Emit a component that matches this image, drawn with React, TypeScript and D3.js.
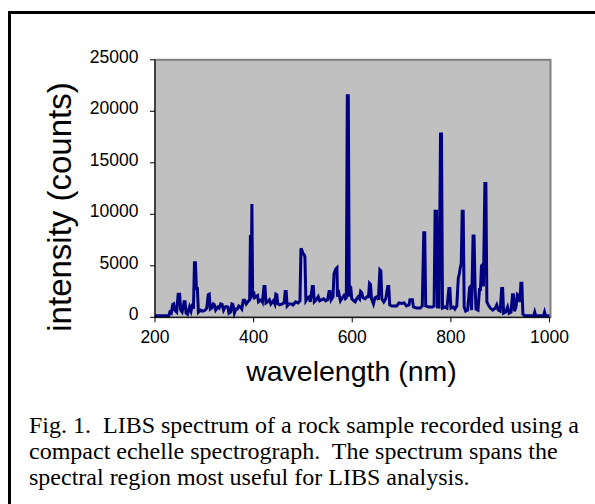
import React from 'react';
import * as d3 from 'd3';

// spectrum: [wavelength nm, counts]
const uvBand: [number, number][] = [
  [200, 150], [228, 150], [230, 500], [233, 400], [236, 1250], [238, 1300], [240, 700], [244, 500],
  [247, 2250], [250, 2250], [252, 700], [255, 500], [259, 1500], [261, 1500], [263, 400], [266, 300],
  [270, 1000], [273, 600], [276, 1300], [278, 800], [280, 5300], [282, 5300], [284, 2800], [286, 2800],
  [288, 500], [292, 700], [296, 600], [300, 650], [302, 700], [305, 900], [308, 2200], [310, 2250],
  [312, 800], [315, 900], [318, 1300], [320, 1250], [323, 700], [327, 1000], [330, 900], [333, 1300],
  [336, 1250], [339, 700], [342, 1000], [345, 1050], [348, 1000], [350, 400], [353, 500], [356, 1300],
  [358, 1250], [361, 400], [364, 800], [367, 800], [370, 1100], [373, 1000], [376, 800], [379, 1650],
  [382, 1650], [385, 1300], [388, 1500], [390, 1600], [392, 1700], [393.5, 8000], [395, 1800],
  [396.5, 11000], [398, 2000],
];

const visBand: [number, number][] = [
  [400, 2500], [402, 1900], [405, 2000], [408, 2100], [410, 1500], [413, 1600], [416, 1700], [418, 1500],
  [421, 3000], [423, 3000], [425, 1400], [428, 1500], [432, 1700], [435, 1300], [440, 1600], [443, 1300],
  [445, 2250], [447, 2200], [449, 1300], [453, 1200], [458, 1300], [462, 1400], [464, 2500], [466, 2500],
  [468, 1100], [472, 1300], [477, 1300], [480, 1200], [485, 1500], [490, 1400], [494, 1600], [496, 6700],
  [498, 6500], [500, 6200], [502, 6100], [504, 5900], [506, 1600], [510, 1900], [513, 2000], [515, 1500],
  [519, 3000], [521, 3000], [523, 1500], [527, 1700], [531, 2000], [534, 1600], [538, 1700], [542, 1800],
  [546, 1600], [550, 1700], [553, 2500], [555, 2500], [557, 1700], [561, 2000], [563, 4200], [565, 4500],
  [567, 4700], [569, 4800], [570, 2000], [573, 2300], [576, 1600], [580, 1900], [583, 2100], [586, 1800],
  [588, 1900], [590, 21500], [592, 21500], [594, 2000], [595.5, 3000], [597, 2900], [599, 1800],
  [603, 1600], [606, 1500], [609, 1800], [612, 2000], [615, 1800], [617, 2500], [619, 2400], [622, 1900],
  [626, 1800], [630, 2000], [633, 2000], [635, 3300], [637, 3200], [639, 1800], [643, 1300], [646, 1900],
  [650, 2000], [653, 1700], [656, 4600], [658, 4500], [660, 1800], [664, 1500], [668, 1800], [672, 3000],
  [674, 3000], [676, 1200],
];

const nirBand: [number, number][] = [
  [680, 1100], [690, 1100], [695, 1400], [700, 1350], [705, 1400], [710, 1100], [715, 1200], [717, 1700],
  [722, 1700], [724, 1000], [730, 900], [738, 900], [742, 1100], [745, 8200], [747, 8200], [749, 1100],
  [755, 1000], [762, 1000], [766, 1100], [768, 10300], [771, 10300], [773, 1000], [776, 1000],
  [779, 17800], [781, 17800], [783, 900], [788, 1000], [792, 900], [796, 2800], [798, 2800], [800, 900],
  [805, 1000], [808, 800], [812, 1100], [815, 3800], [817, 4200], [819, 4800], [821, 5200], [823, 10300],
  [825, 10300], [827, 1000], [830, 600], [834, 700], [838, 2900], [840, 3000], [842, 700], [845, 7900],
  [847, 7900], [849, 3000], [851, 800], [855, 700], [858, 2700], [860, 2700], [862, 5000], [864, 5100],
  [866, 3000], [869, 13000], [871, 13000], [873, 1500], [876, 1200], [880, 900], [885, 700], [890, 900],
  [893, 1200], [896, 700], [900, 600], [903, 2800], [905, 2800], [907, 400], [911, 500], [915, 1000],
  [918, 400], [922, 500], [925, 2200], [927, 2200], [929, 600], [932, 1000], [935, 2200], [937, 2100],
  [940, 1500], [942, 3300], [944, 3300], [946, 300], [950, 150], [968, 150], [970, 500], [972, 150],
  [988, 150], [990, 500], [992, 150], [1000, 150],
];

const xTicks = [200, 400, 600, 800, 1000];
const yTicks = [0, 5000, 10000, 15000, 20000, 25000];

const captionLines = [
  'Fig. 1.  LIBS spectrum of a rock sample recorded using a',
  'compact echelle spectrograph.  The spectrum spans the',
  'spectral region most useful for LIBS analysis.',
];

const sans = "Arial, 'Liberation Sans', sans-serif";
const serif = "'Times New Roman', 'Liberation Serif', serif";

const App: React.FC = () => {
  const left = 155, right = 549.5, top = 59.8, bottom = 317.3;
  const x = d3.scaleLinear().domain([200, 1000]).range([left, right]);
  const y = d3.scaleLinear().domain([0, 25000]).range([bottom, top]);

  const spectrum = [...uvBand, ...visBand, ...nirBand];
  const line = d3.line<[number, number]>()
    .x(d => x(d[0]))
    .y(d => y(d[1]));

  return (
    <svg width={595} height={504} style={{ position: 'absolute', left: 0, top: 0, display: 'block' }}>
      <rect x={0} y={0} width={595} height={504} fill="#fff" />
      {/* page frame */}
      <rect x={9.5} y={12.5} width={700} height={600} fill="none" stroke="#000" strokeWidth={3} />

      {/* plot area */}
      <rect x={left} y={top} width={right + 1 - left} height={bottom - top}
        fill="#C0C0C0" stroke="#808080" strokeWidth={2} />

      <path d={line(spectrum) || ''} fill="none" stroke="#000080" strokeWidth={3} strokeLinejoin="miter" />

      {/* axes */}
      <line x1={left} x2={left} y1={top} y2={bottom} stroke="#000" strokeWidth={1} />
      <line x1={left} x2={right + 1} y1={bottom} y2={bottom} stroke="#000" strokeWidth={1} />

      {yTicks.map(t => (
        <g key={t}>
          <line x1={left - 5} x2={left} y1={y(t)} y2={y(t)} stroke="#000" strokeWidth={1} />
          <text x={138.5} y={y(t) + 3} textAnchor="end" fontFamily={sans} fontSize={17.5} fill="#000">{t}</text>
        </g>
      ))}
      {xTicks.map(t => (
        <g key={t}>
          <line x1={x(t)} x2={x(t)} y1={bottom} y2={bottom + 5} stroke="#000" strokeWidth={1} />
          <text x={x(t)} y={342.5} textAnchor="middle" fontFamily={sans} fontSize={17.5} fill="#000">{t}</text>
        </g>
      ))}

      <text transform="translate(71,207) rotate(-90)" textAnchor="middle" fontFamily={sans} fontSize={33} fill="#000">
        intensity (counts)
      </text>
      <text x={351.5} y={381} textAnchor="middle" fontFamily={sans} fontSize={28.5} fill="#000">
        wavelength (nm)
      </text>

      {captionLines.map((s, i) => (
        <text key={i} x={29} y={432.7 + i * 26.3} fontFamily={serif} fontSize={24} fill="#000"
          style={{ whiteSpace: 'pre' }}>{s}</text>
      ))}
    </svg>
  );
};

export default App;
